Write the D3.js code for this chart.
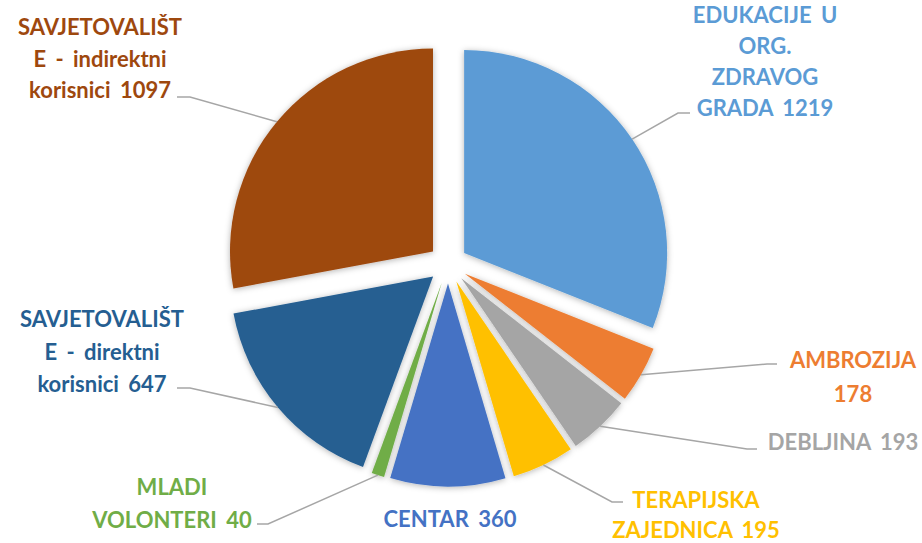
<!DOCTYPE html>
<html>
<head>
<meta charset="utf-8">
<script src="https://cdn.jsdelivr.net/npm/d3@7"></script>
<style>
  body { margin: 0; background: #fff; }
</style>
</head>
<body>
<svg id="chart" width="922" height="543"></svg>
<script>
let categories = ["EDUKACIJE U ORG. ZDRAVOG GRADA", "AMBROZIJA", "DEBLJINA", "TERAPIJSKA ZAJEDNICA",
  "CENTAR", "MLADI VOLONTERI", "SAVJETOVALIŠTE - direktni korisnici", "SAVJETOVALIŠTE - indirektni korisnici"];
let values = [1219, 178, 193, 195, 360, 40, 647, 1097];
let colors = ["#5B9BD5", "#ED7D31", "#A5A5A5", "#FFC000", "#4472C4", "#70AD47", "#255E91", "#9E480E"];

// label placement (layout only): centre x, first baseline, line gap, wrap width, leader elbow + end
let labelLayout = [
  {x: 765, y: 23, gap: 31, wrap: 160, elbow: [678, 113], end: 690},
  {x: 853, y: 368, gap: 34, wrap: 130, elbow: [767, 364], end: 777},
  {x: 843, y: 450, gap: 32, wrap: 200, elbow: [747, 449], end: 757},
  {x: 696, y: 508, gap: 30, wrap: 175, elbow: [612, 502], end: 623},
  {x: 450, y: 527, gap: 32, wrap: 200, elbow: null, end: null},
  {x: 172, y: 495, gap: 33, wrap: 175, elbow: [268, 524], end: 257},
  {x: 102, y: 327, gap: 32.5, wrap: 172, elbow: [190, 388], end: 177},
  {x: 100, y: 35, gap: 31.5, wrap: 172, elbow: [190, 97], end: 177}
];

let svg = d3.select("#chart");
let cx = 448, cy = 264;
let radius = 203;
let explode = 19.5;
let fontFamily = "Lato, 'Open Sans', sans-serif";
let fontSize = 22;

let defs = svg.append("defs");
let shadow = defs.append("filter")
  .attr("id", "shadow")
  .attr("x", "-20%").attr("y", "-20%")
  .attr("width", "140%").attr("height", "140%");
shadow.append("feDropShadow")
  .attr("dx", 0).attr("dy", 1)
  .attr("stdDeviation", 3)
  .attr("flood-color", "#000")
  .attr("flood-opacity", 0.3);

let pie = d3.pie().sort(null).startAngle(0).endAngle(2 * Math.PI);
let arcs = pie(values);

let arc = d3.arc()
  .innerRadius(0)
  .outerRadius(radius);

function midAngle(d) { return (d.startAngle + d.endAngle) / 2; }
function offsetOf(d) {
  let a = midAngle(d);
  return [Math.sin(a) * explode, -Math.cos(a) * explode];
}

let g = svg.append("g").attr("transform", "translate(" + cx + "," + cy + ")");

// slices
g.selectAll(".slice")
  .data(arcs)
  .enter()
  .append("path")
  .attr("class", "slice")
  .attr("d", arc)
  .attr("transform", d => "translate(" + offsetOf(d)[0] + "," + offsetOf(d)[1] + ")")
  .style("fill", (d, i) => colors[i])
  .style("filter", "url(#shadow)");

// leader lines from slice edge (mid angle) to label
arcs.forEach((d, i) => {
  let lay = labelLayout[i];
  if (!lay.elbow) return;
  let a = midAngle(d);
  let off = offsetOf(d);
  let sx = cx + off[0] + Math.sin(a) * radius;
  let sy = cy + off[1] - Math.cos(a) * radius;
  svg.append("polyline")
    .attr("points", [[sx, sy], lay.elbow, [lay.end, lay.elbow[1]]].map(p => p.join(",")).join(" "))
    .style("fill", "none")
    .style("stroke", "#A6A6A6")
    .style("stroke-width", 1.5);
});

// measure helper for wrapping labels
let measurer = svg.append("text")
  .style("font-family", fontFamily)
  .style("font-weight", "bold")
  .style("font-size", fontSize + "px")
  .style("word-spacing", "4px")
  .style("visibility", "hidden");
function measure(s) {
  measurer.text(s);
  return measurer.node().getComputedTextLength();
}

function wrapText(str, maxW) {
  let words = str.split(" ");
  let lines = [];
  let cur = "";
  words.forEach(w => {
    let test = cur ? cur + " " + w : w;
    if (measure(test) <= maxW) { cur = test; return; }
    if (cur) lines.push(cur);
    cur = w;
    while (measure(cur) > maxW) {
      let k = cur.length - 1;
      while (k > 1 && measure(cur.slice(0, k)) > maxW) k--;
      lines.push(cur.slice(0, k));
      cur = cur.slice(k);
    }
  });
  if (cur) lines.push(cur);
  return lines;
}

// data labels
categories.forEach((name, i) => {
  let lay = labelLayout[i];
  let lines = wrapText(name + " " + values[i], lay.wrap);
  let t = svg.append("text")
    .attr("x", lay.x)
    .attr("y", lay.y)
    .style("font-family", fontFamily)
    .style("font-weight", "bold")
    .style("font-size", fontSize + "px")
    .style("word-spacing", "4px")
    .style("text-anchor", "middle")
    .style("fill", colors[i]);
  lines.forEach((line, j) => {
    t.append("tspan")
      .attr("x", lay.x)
      .attr("dy", j === 0 ? 0 : lay.gap)
      .text(line);
  });
});
measurer.remove();
</script>
</body>
</html>
